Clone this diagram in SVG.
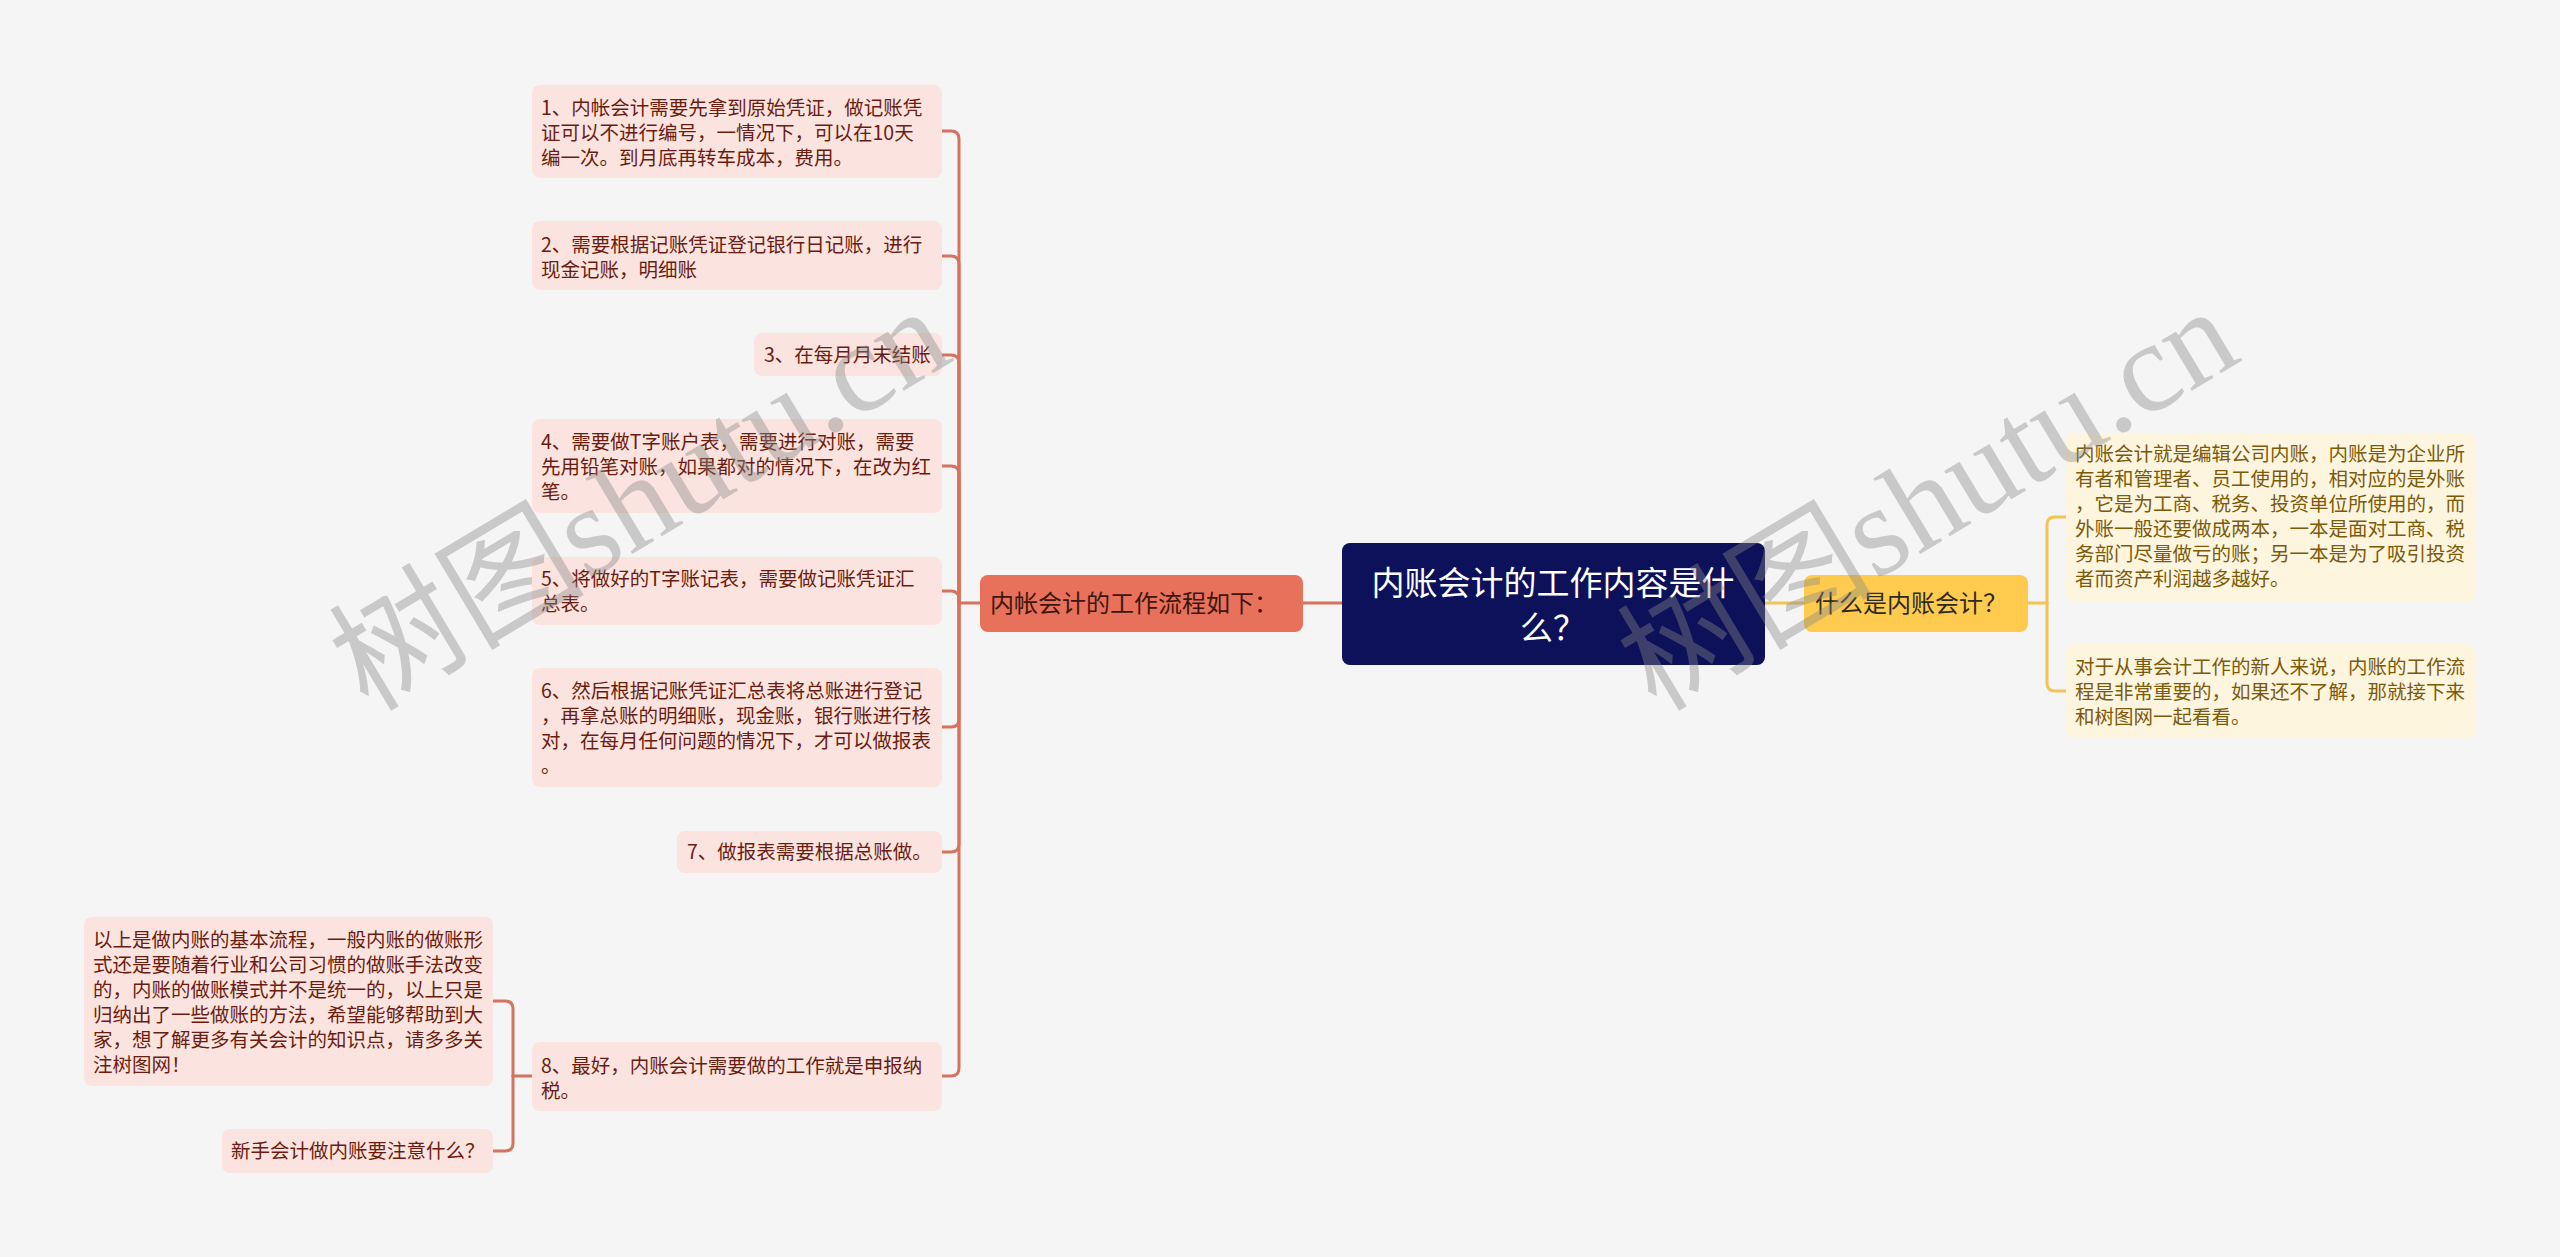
<svg xmlns="http://www.w3.org/2000/svg" width="2560" height="1257" viewBox="0 0 2560 1257">
<style>
text{font-family:"Noto Sans CJK SC","Noto Sans",sans-serif}
.bg{fill:#f5f5f5}
.pk{fill:#fbe4df}
.pt{fill:#6b1c10;font-size:19.5px}
.yk{fill:#fef5df}
.yt{fill:#7b5a0a;font-size:19.5px}
.cl{fill:none;stroke:#d7725f;stroke-width:3;stroke-linecap:round}
.cy{fill:none;stroke:#f2c455;stroke-width:3;stroke-linecap:round}
.wm{font-family:"Liberation Serif","Noto Sans CJK SC",serif;font-size:128px;fill:#888;opacity:0.4}
</style>
<rect class="bg" x="0" y="0" width="2560" height="1257"/>
<g id="connectors">
<path class="cl" d="M1303,603 H1342"/>
<path class="cy" d="M1765,603 H1804"/>
<path class="cl" d="M980,603 H959"/>
<path class="cl" d="M942,131 H951 Q959,131 959,139 V603"/>
<path class="cl" d="M942,256 H951 Q959,256 959,264 V603"/>
<path class="cl" d="M942,355 H951 Q959,355 959,363 V603"/>
<path class="cl" d="M942,466 H951 Q959,466 959,474 V603"/>
<path class="cl" d="M942,591 H951 Q959,591 959,599 V603"/>
<path class="cl" d="M942,727 H951 Q959,727 959,719 V603"/>
<path class="cl" d="M942,852 H951 Q959,852 959,844 V603"/>
<path class="cl" d="M942,1076 H951 Q959,1076 959,1068 V603"/>
<path class="cl" d="M532,1076 H513"/>
<path class="cl" d="M513,1076 V1009 Q513,1001 505,1001 H493"/>
<path class="cl" d="M513,1076 V1143 Q513,1151 505,1151 H493"/>
<path class="cy" d="M2028,603 H2047"/>
<path class="cy" d="M2047,603 V525 Q2047,517 2055,517 H2066"/>
<path class="cy" d="M2047,603 V683 Q2047,691 2055,691 H2066"/>
</g>
<g id="root">
<rect x="1342" y="543" width="423" height="122" rx="8" fill="#0c1159"/>
<text x="1553" y="595" text-anchor="middle" fill="#ffffff" font-size="33">内账会计的工作内容是什</text>
<text x="1553" y="640" text-anchor="middle" fill="#ffffff" font-size="33">么？</text>
</g>
<g id="left-main">
<rect x="980" y="575" width="323" height="57" rx="8" fill="#e8715c"/>
<text x="990" y="612" fill="#3e160d" font-size="24">内帐会计的工作流程如下：</text>
</g>
<g id="right-main">
<rect x="1804" y="575" width="224" height="57" rx="8" fill="#fecb4f"/>
<text x="1815" y="612" fill="#2d2a20" font-size="24">什么是内账会计？</text>
</g>
<g id="step1">
<rect class="pk" x="532" y="85" width="410" height="93" rx="8"/>
<text class="pt" x="541" y="115">1、内帐会计需要先拿到原始凭证，做记账凭</text>
<text class="pt" x="541" y="140">证可以不进行编号，一情况下，可以在10天</text>
<text class="pt" x="541" y="165">编一次。到月底再转车成本，费用。</text>
</g>
<g id="step2">
<rect class="pk" x="532" y="221" width="410" height="69" rx="8"/>
<text class="pt" x="541" y="252">2、需要根据记账凭证登记银行日记账，进行</text>
<text class="pt" x="541" y="277">现金记账，明细账</text>
</g>
<g id="step3">
<rect class="pk" x="754" y="333" width="188" height="43" rx="8"/>
<text class="pt" x="764" y="362">3、在每月月末结账</text>
</g>
<g id="step4">
<rect class="pk" x="532" y="419" width="410" height="94" rx="8"/>
<text class="pt" x="541" y="449">4、需要做T字账户表，需要进行对账，需要</text>
<text class="pt" x="541" y="474">先用铅笔对账，如果都对的情况下，在改为红</text>
<text class="pt" x="541" y="499">笔。</text>
</g>
<g id="step5">
<rect class="pk" x="532" y="557" width="410" height="68" rx="8"/>
<text class="pt" x="541" y="586">5、将做好的T字账记表，需要做记账凭证汇</text>
<text class="pt" x="541" y="611">总表。</text>
</g>
<g id="step6">
<rect class="pk" x="532" y="668" width="410" height="119" rx="8"/>
<text class="pt" x="541" y="698">6、然后根据记账凭证汇总表将总账进行登记</text>
<text class="pt" x="541" y="723">，再拿总账的明细账，现金账，银行账进行核</text>
<text class="pt" x="541" y="748">对，在每月任何问题的情况下，才可以做报表</text>
<text class="pt" x="541" y="773">。</text>
</g>
<g id="step7">
<rect class="pk" x="677" y="831" width="265" height="42" rx="8"/>
<text class="pt" x="687" y="859">7、做报表需要根据总账做。</text>
</g>
<g id="step8">
<rect class="pk" x="532" y="1042" width="410" height="69" rx="8"/>
<text class="pt" x="541" y="1073">8、最好，内账会计需要做的工作就是申报纳</text>
<text class="pt" x="541" y="1098">税。</text>
</g>
<g id="summary">
<rect class="pk" x="84" y="917" width="409" height="169" rx="8"/>
<text class="pt" x="93" y="947">以上是做内账的基本流程，一般内账的做账形</text>
<text class="pt" x="93" y="972">式还是要随着行业和公司习惯的做账手法改变</text>
<text class="pt" x="93" y="997">的，内账的做账模式并不是统一的，以上只是</text>
<text class="pt" x="93" y="1022">归纳出了一些做账的方法，希望能够帮助到大</text>
<text class="pt" x="93" y="1047">家，想了解更多有关会计的知识点，请多多关</text>
<text class="pt" x="93" y="1072">注树图网！</text>
</g>
<g id="newbie">
<rect class="pk" x="222" y="1129" width="271" height="44" rx="8"/>
<text class="pt" x="231" y="1158">新手会计做内账要注意什么？</text>
</g>
<g id="definition">
<rect class="yk" x="2066" y="433" width="409" height="169" rx="8"/>
<text class="yt" x="2075" y="461">内账会计就是编辑公司内账，内账是为企业所</text>
<text class="yt" x="2075" y="486">有者和管理者、员工使用的，相对应的是外账</text>
<text class="yt" x="2075" y="511">，它是为工商、税务、投资单位所使用的，而</text>
<text class="yt" x="2075" y="536">外账一般还要做成两本，一本是面对工商、税</text>
<text class="yt" x="2075" y="561">务部门尽量做亏的账；另一本是为了吸引投资</text>
<text class="yt" x="2075" y="586">者而资产利润越多越好。</text>
</g>
<g id="intro">
<rect class="yk" x="2066" y="644" width="409" height="94" rx="8"/>
<text class="yt" x="2075" y="674">对于从事会计工作的新人来说，内账的工作流</text>
<text class="yt" x="2075" y="699">程是非常重要的，如果还不了解，那就接下来</text>
<text class="yt" x="2075" y="724">和树图网一起看看。</text>
</g>
<g id="watermarks">
<text class="wm" x="662" y="536" text-anchor="middle" transform="rotate(-31 662 536)">树图shutu.cn</text>
<text class="wm" x="1950" y="536" text-anchor="middle" transform="rotate(-31 1950 536)">树图shutu.cn</text>
</g>
</svg>
